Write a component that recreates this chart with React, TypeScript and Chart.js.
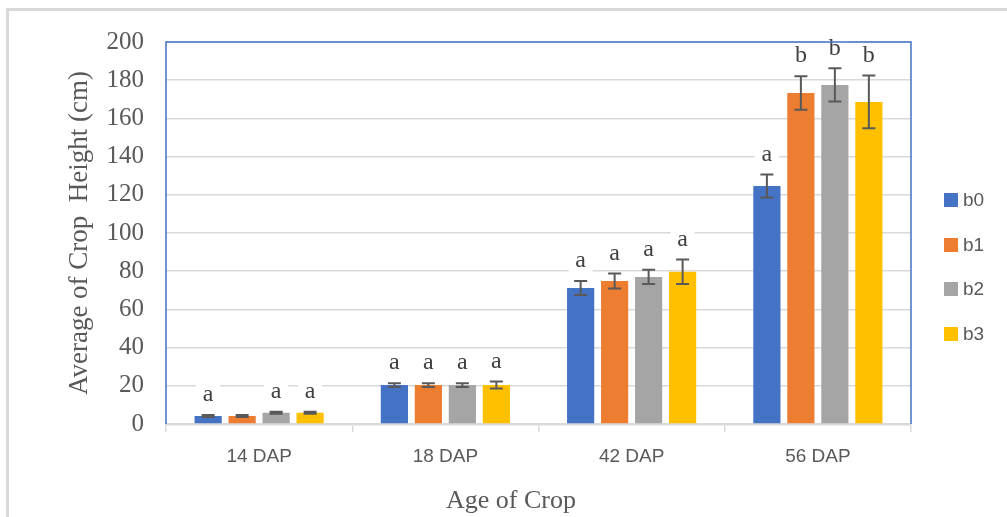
import React, { useEffect, useRef } from "react";
import { Chart, registerables } from "chart.js";

Chart.register(...registerables);

const categories = ["14 DAP", "18 DAP", "42 DAP", "56 DAP"];
const seriesNames = ["b0", "b1", "b2", "b3"];
const seriesColors = ["#4472C4", "#ED7D31", "#A5A5A5", "#FFC000"];

const b0Values = [4.2, 20.4, 71.2, 124.6];
const b1Values = [4.2, 20.4, 74.9, 173.3];
const b2Values = [5.9, 20.4, 77.0, 177.5];
const b3Values = [5.9, 20.4, 79.7, 168.6];

const b0Errors = [0.5, 1.0, 3.7, 6.0];
const b1Errors = [0.5, 1.0, 3.9, 8.8];
const b2Errors = [0.5, 1.0, 3.7, 8.7];
const b3Errors = [0.5, 1.8, 6.4, 13.8];

const b0Letters = ["a", "a", "a", "a"];
const b1Letters = ["", "a", "a", "b"];
const b2Letters = ["a", "a", "a", "b"];
const b3Letters = ["a", "a", "a", "b"];

const yTicks = [0, 20, 40, 60, 80, 100, 120, 140, 160, 180, 200];

const xTitle = "Age of Crop";
const yTitle = "Average of Crop  Height (cm)";

const allValues = [b0Values, b1Values, b2Values, b3Values];
const allErrors = [b0Errors, b1Errors, b2Errors, b3Errors];
const allLetters = [b0Letters, b1Letters, b2Letters, b3Letters];

const framePlugin = {
  id: "frame",
  beforeDraw(chart: any) {
    const ctx = chart.ctx;
    ctx.save();
    ctx.fillStyle = "#ffffff";
    ctx.fillRect(0, 0, chart.width, chart.height);
    ctx.strokeStyle = "#d9d9d9";
    ctx.lineWidth = 3;
    ctx.beginPath();
    ctx.moveTo(7.5, chart.height);
    ctx.lineTo(7.5, 9.5);
    ctx.lineTo(chart.width, 9.5);
    ctx.stroke();
    ctx.restore();
  },
  afterDraw(chart: any) {
    const { ctx, chartArea } = chart;
    ctx.save();
    ctx.strokeStyle = "#4472C4";
    ctx.lineWidth = 1.5;
    ctx.beginPath();
    ctx.moveTo(chartArea.left, chartArea.bottom);
    ctx.lineTo(chartArea.left, chartArea.top);
    ctx.lineTo(chartArea.right, chartArea.top);
    ctx.lineTo(chartArea.right, chartArea.bottom);
    ctx.stroke();
    // x axis title (offset left as in the reference)
    ctx.fillStyle = "#595959";
    ctx.font = "26px 'Liberation Serif', 'Times New Roman', serif";
    ctx.textAlign = "center";
    ctx.textBaseline = "alphabetic";
    ctx.fillText(xTitle, 511, 508);
    // legend
    const ys = [200, 245, 289, 334];
    chart.data.datasets.forEach((ds: any, i: number) => {
      const y = ys[i];
      ctx.fillStyle = ds.backgroundColor;
      ctx.fillRect(944, y - 7, 14, 14);
      ctx.fillStyle = "#595959";
      ctx.font = "19px 'Liberation Sans', Arial, sans-serif";
      ctx.textBaseline = "middle";
      ctx.textAlign = "left";
      ctx.fillText(ds.label, 963, y + 1);
    });
    ctx.restore();
  },
};

const errorPlugin = {
  id: "errorBars",
  afterDatasetsDraw(chart: any) {
    const ctx = chart.ctx;
    const yScale = chart.scales.y;
    ctx.save();
    chart.data.datasets.forEach((ds: any, di: number) => {
      const meta = chart.getDatasetMeta(di);
      meta.data.forEach((el: any, i: number) => {
        const v = allValues[di][i];
        const e = allErrors[di][i];
        const letter = allLetters[di][i];
        if (!letter) return;
        const yTop = yScale.getPixelForValue(v + e);
        const ly = yTop - 20;
        ctx.fillStyle = "#ffffff";
        ctx.fillRect(el.x - 12, ly - 11, 24, 22);
        ctx.fillStyle = "#404040";
        ctx.font = "24px 'Liberation Serif', 'Times New Roman', serif";
        ctx.textAlign = "center";
        ctx.textBaseline = "middle";
        ctx.fillText(letter, el.x, ly);
      });
    });
    chart.data.datasets.forEach((ds: any, di: number) => {
      const meta = chart.getDatasetMeta(di);
      meta.data.forEach((el: any, i: number) => {
        const v = allValues[di][i];
        const e = allErrors[di][i];
        const yHi = yScale.getPixelForValue(v + e);
        const yLo = yScale.getPixelForValue(v - e);
        ctx.strokeStyle = "#595959";
        ctx.lineWidth = 2;
        ctx.beginPath();
        ctx.moveTo(el.x, yHi);
        ctx.lineTo(el.x, yLo);
        ctx.moveTo(el.x - 6.5, yHi);
        ctx.lineTo(el.x + 6.5, yHi);
        ctx.moveTo(el.x - 6.5, yLo);
        ctx.lineTo(el.x + 6.5, yLo);
        ctx.stroke();
      });
    });
    ctx.restore();
  },
};

export default function App() {
  const canvasRef = useRef<HTMLCanvasElement | null>(null);

  useEffect(() => {
    if (!canvasRef.current) return;
    const chart = new Chart(canvasRef.current, {
      type: "bar",
      data: {
        labels: categories,
        datasets: seriesNames.map((name, i) => ({
          label: name,
          data: allValues[i],
          backgroundColor: seriesColors[i],
          borderWidth: 0,
          barPercentage: 0.8,
          categoryPercentage: 0.73,
        })),
      },
      options: {
        animation: false,
        responsive: false,
        maintainAspectRatio: false,
        layout: { padding: { left: 64, right: 96, top: 42, bottom: 6 } },
        plugins: {
          legend: { display: false },
          tooltip: { enabled: false },
        },
        scales: {
          x: {
            afterFit(scale: any) {
              scale.height = 87;
            },
            grid: {
              drawOnChartArea: false,
              drawTicks: true,
              tickLength: 8,
              color: "#d9d9d9",
              lineWidth: 1.5,
            },
            border: { color: "#d9d9d9", width: 2.5 },
            ticks: {
              padding: 13,
              color: "#595959",
              font: { family: "'Liberation Sans', Arial, sans-serif", size: 19 },
            },
            title: { display: false },
          },
          y: {
            min: 0,
            max: 200,
            afterFit(scale: any) {
              scale.width = 102;
            },
            afterBuildTicks(scale: any) {
              scale.ticks = yTicks.map((v) => ({ value: v }));
            },
            grid: {
              drawTicks: false,
              color: "#d9d9d9",
              lineWidth: 1.5,
            },
            border: { display: false },
            ticks: {
              padding: 22,
              color: "#595959",
              font: { family: "'Liberation Serif', 'Times New Roman', serif", size: 25 },
            },
            title: {
              display: true,
              text: yTitle,
              color: "#595959",
              padding: 0,
              font: { family: "'Liberation Serif', 'Times New Roman', serif", size: 27 },
            },
          },
        },
      },
      plugins: [framePlugin, errorPlugin],
    });
    return () => chart.destroy();
  }, []);

  return (
    <div
      style={{
        position: "fixed",
        left: 0,
        top: 0,
        width: 1007,
        height: 517,
        background: "#ffffff",
      }}
    >
      <canvas ref={canvasRef} width={1007} height={517} style={{ display: "block" }} />
    </div>
  );
}
